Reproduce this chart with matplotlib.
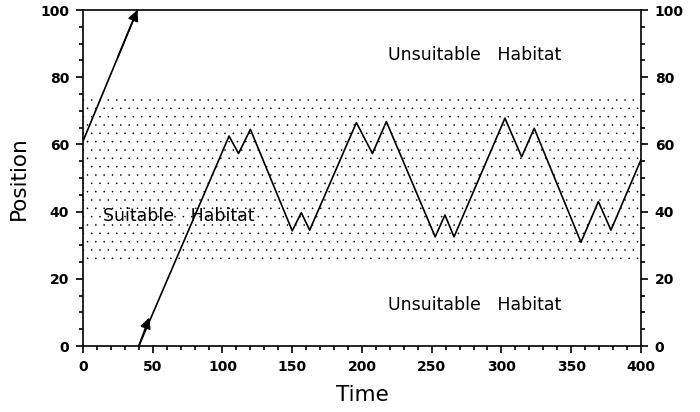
import matplotlib
matplotlib.use("Agg")
import matplotlib.pyplot as plt
from matplotlib.ticker import MultipleLocator

# first leg leaves the top edge (wraps around)
leg1_time = [0, 39]
leg1_pos = [61, 100]

# second leg re-enters from the bottom
leg2_time = [40, 104.7, 111.5, 120, 150, 156.5, 162.5, 196, 207.5, 217.5,
             252.5, 259.5, 266, 302.5, 314.5, 323.5, 357, 369.5, 378.5, 400]
leg2_pos = [0, 62.5, 57.3, 64.5, 34.3, 39.7, 34.5, 66.5, 57.3, 66.8,
            32.5, 39, 32.5, 67.8, 56.3, 64.8, 30.9, 43, 34.5, 55.4]

suitable_low, suitable_high = 25.5, 74

plt.rcParams['font.family'] = ['DejaVu Sans']
plt.rcParams['hatch.linewidth'] = 0.0

fig = plt.figure(figsize=(7, 4.12), dpi=100)
ax = fig.add_axes([0.1186, 0.160, 0.797, 0.8157])

# dotted band = suitable habitat
ax.axhspan(suitable_low, suitable_high, facecolor='white', edgecolor='black',
           hatch='..', linewidth=0, zorder=0)

ax.plot(leg1_time, leg1_pos, color='black', lw=1.2)
ax.annotate('', xy=(leg1_time[1], leg1_pos[1]), xytext=(leg1_time[0] + 25, leg1_pos[0] + 25),
            arrowprops=dict(arrowstyle='-|>', color='black', lw=1.2,
                            mutation_scale=16, shrinkA=0, shrinkB=0))

ax.plot(leg2_time, leg2_pos, color='black', lw=1.2)
ax.annotate('', xy=(47.5, 8.5), xytext=(leg2_time[0], leg2_pos[0]),
            arrowprops=dict(arrowstyle='-|>', color='black', lw=1.2,
                            mutation_scale=16, shrinkA=0, shrinkB=0))

ax.text(219, 86.5, 'Unsuitable   Habitat', fontsize=12.5, va='center')
ax.text(219, 12.2, 'Unsuitable   Habitat', fontsize=12.5, va='center')
ax.text(14.5, 38.7, 'Suitable   Habitat', fontsize=12.5, va='center')

ax.set_xlim(0, 400)
ax.set_ylim(0, 100)
ax.xaxis.set_major_locator(MultipleLocator(50))
ax.xaxis.set_minor_locator(MultipleLocator(10))
ax.yaxis.set_major_locator(MultipleLocator(20))
ax.yaxis.set_minor_locator(MultipleLocator(5))
ax.tick_params(which='both', direction='out', right=True, labelright=True,
               labelsize=10, width=1.2)
ax.tick_params(which='major', length=5, pad=5)
ax.tick_params(which='minor', length=3)
for lbl in ax.get_xticklabels() + ax.get_yticklabels():
    lbl.set_fontweight('bold')
for s in ax.spines.values():
    s.set_linewidth(1.2)

ax.set_xlabel('Time', fontsize=15.5, labelpad=8)
ax.set_ylabel('Position', fontsize=15.5, labelpad=8)

fig.savefig('out.png', dpi=100)
